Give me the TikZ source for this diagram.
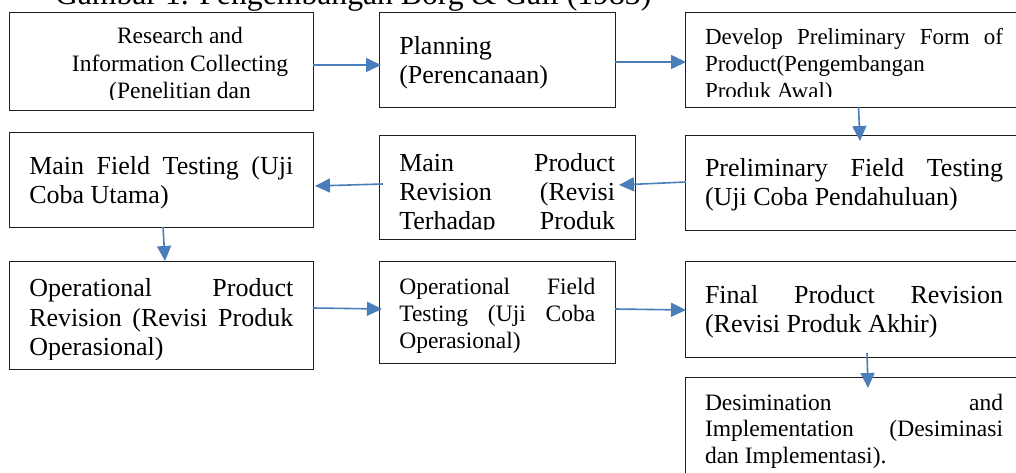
\documentclass[tikz,border=0pt]{standalone}
\usepackage{fontspec}
\setmainfont{Liberation Serif}
\usetikzlibrary{arrows.meta,calc}
\definecolor{arrowblue}{RGB}{74,126,187}
\definecolor{framegray}{RGB}{30,30,30}
\newcommand{\bigtxt}{\fontsize{26}{29}\selectfont}
\newcommand{\smalltxt}{\fontsize{23.5}{27.3}\selectfont}
\tikzset{
  boxstyle/.style={draw=framegray, line width=0.9pt, inner sep=0pt, outer sep=0pt, anchor=north west},
  txtstyle/.style={anchor=base west, inner sep=0pt, outer sep=0pt},
  flow/.style={draw=arrowblue, line width=1.6pt, -{Triangle[length=15pt,width=14pt]}}
}
\begin{document}
\begin{tikzpicture}[x=1pt,y=-1pt]
\useasboundingbox (0,0) rectangle (1016,473);
\clip (0,0) rectangle (1016,473);
% title (cut off at top)
\node[txtstyle, font=\fontsize{31.7}{36}\selectfont] (title) at (55,5) {Gambar 1. Pengembangan Borg \& Gall (1983)};
% boxes
\node[boxstyle, minimum width=304pt, minimum height=98pt] (b1) at (9,12) {};
\node[boxstyle, minimum width=236pt, minimum height=95pt] (b2) at (379,12) {};
\node[boxstyle, minimum width=340pt, minimum height=95pt] (b3) at (685,12) {};
\node[boxstyle, minimum width=340pt, minimum height=95pt] (b4) at (685,135) {};
\node[boxstyle, minimum width=256pt, minimum height=104pt] (b5) at (379,135) {};
\node[boxstyle, minimum width=304pt, minimum height=95pt] (b6) at (9,132) {};
\node[boxstyle, minimum width=304pt, minimum height=108pt] (b7) at (9,261) {};
\node[boxstyle, minimum width=236pt, minimum height=102pt] (b8) at (379,261) {};
\node[boxstyle, minimum width=340pt, minimum height=96pt] (b9) at (685,261) {};
\node[boxstyle, minimum width=340pt, minimum height=113pt] (b10) at (685,377) {};
% texts
\begin{scope}
\clip (9,12) rectangle (313,100);
\node[txtstyle] (t1) at (40,44) {\parbox[t]{280pt}{\centering\smalltxt Research and\\Information Collecting\\(Penelitian dan}};
\end{scope}
\node[txtstyle] (t2) at (399.3,55) {\parbox[t]{200pt}{\bigtxt Planning\\(Perencanaan)}};
\begin{scope}
\clip (685,12) rectangle (1025,97);
\node[txtstyle] (t3) at (705,45) {\parbox[t]{298pt}{\fontsize{23}{26.7}\selectfont Develop\hfill Preliminary\hfill Form\hfill of\\Product(Pengembangan\\Produk Awal)}};
\end{scope}
\node[txtstyle] (t4) at (705,176.7) {\parbox[t]{298pt}{\bigtxt Preliminary\hfill Field\hfill Testing\\(Uji Coba Pendahuluan)}};
\begin{scope}
\clip (379,135) rectangle (635,229.3);
\node[txtstyle] (t5) at (399.3,171.7) {\parbox[t]{215.7pt}{\bigtxt Main\hfill Product\\Revision\hfill (Revisi\\Terhadap\hfill Produk}};
\end{scope}
\node[txtstyle] (t6) at (29.3,174.3) {\parbox[t]{264pt}{\bigtxt Main\hfill Field\hfill Testing\hfill (Uji\\Coba Utama)}};
\begin{scope}
\clip (9,261) rectangle (313,359.3);
\node[txtstyle] (t7) at (29.3,296.7) {\parbox[t]{264pt}{\fontsize{26}{29.5}\selectfont Operational\hfill Product\\Revision\hfill (Revisi\hfill Produk\\Operasional)}};
\end{scope}
\node[txtstyle] (t8) at (399.3,294) {\parbox[t]{196pt}{\smalltxt Operational\hfill Field\\Testing\hfill (Uji\hfill Coba\\Operasional)}};
\node[txtstyle] (t9) at (705,303.3) {\parbox[t]{298pt}{\bigtxt Final\hfill Product\hfill Revision\\(Revisi Produk Akhir)}};
\node[txtstyle] (t10) at (705,410) {\parbox[t]{298pt}{\fontsize{23.5}{26.7}\selectfont Desimination\hfill and\\Implementation\hfill (Desiminasi\\dan Implementasi).}};
% connectors
\draw[flow] ($(b1.north east)+(0,53)$) -- ($(b2.north west)+(2,53)$);
\draw[flow] ($(b2.north east)+(0,50)$) -- ($(b3.north west)+(1,50)$);
\draw[flow] ($(b3.north west)+(173.5,95)$) -- ($(b4.north west)+(175,6)$);
\draw[flow] ($(b4.north west)+(1,47)$) -- ($(b5.north east)+(-16,50)$);
\draw[flow] ($(b5.north west)+(4,49)$) -- ($(b6.north east)+(2,54)$);
\draw[flow] ($(b6.south west)+(154,0)$) -- ($(b7.north west)+(156,0)$);
\draw[flow] ($(b7.north east)+(0,47)$) -- ($(b8.north west)+(3,48)$);
\draw[flow] ($(b8.north east)+(0,48)$) -- ($(b9.north west)+(1,49)$);
\draw[flow] ($(b9.north west)+(182,92)$) -- ($(b10.north west)+(183,11)$);
\end{tikzpicture}
\end{document}
